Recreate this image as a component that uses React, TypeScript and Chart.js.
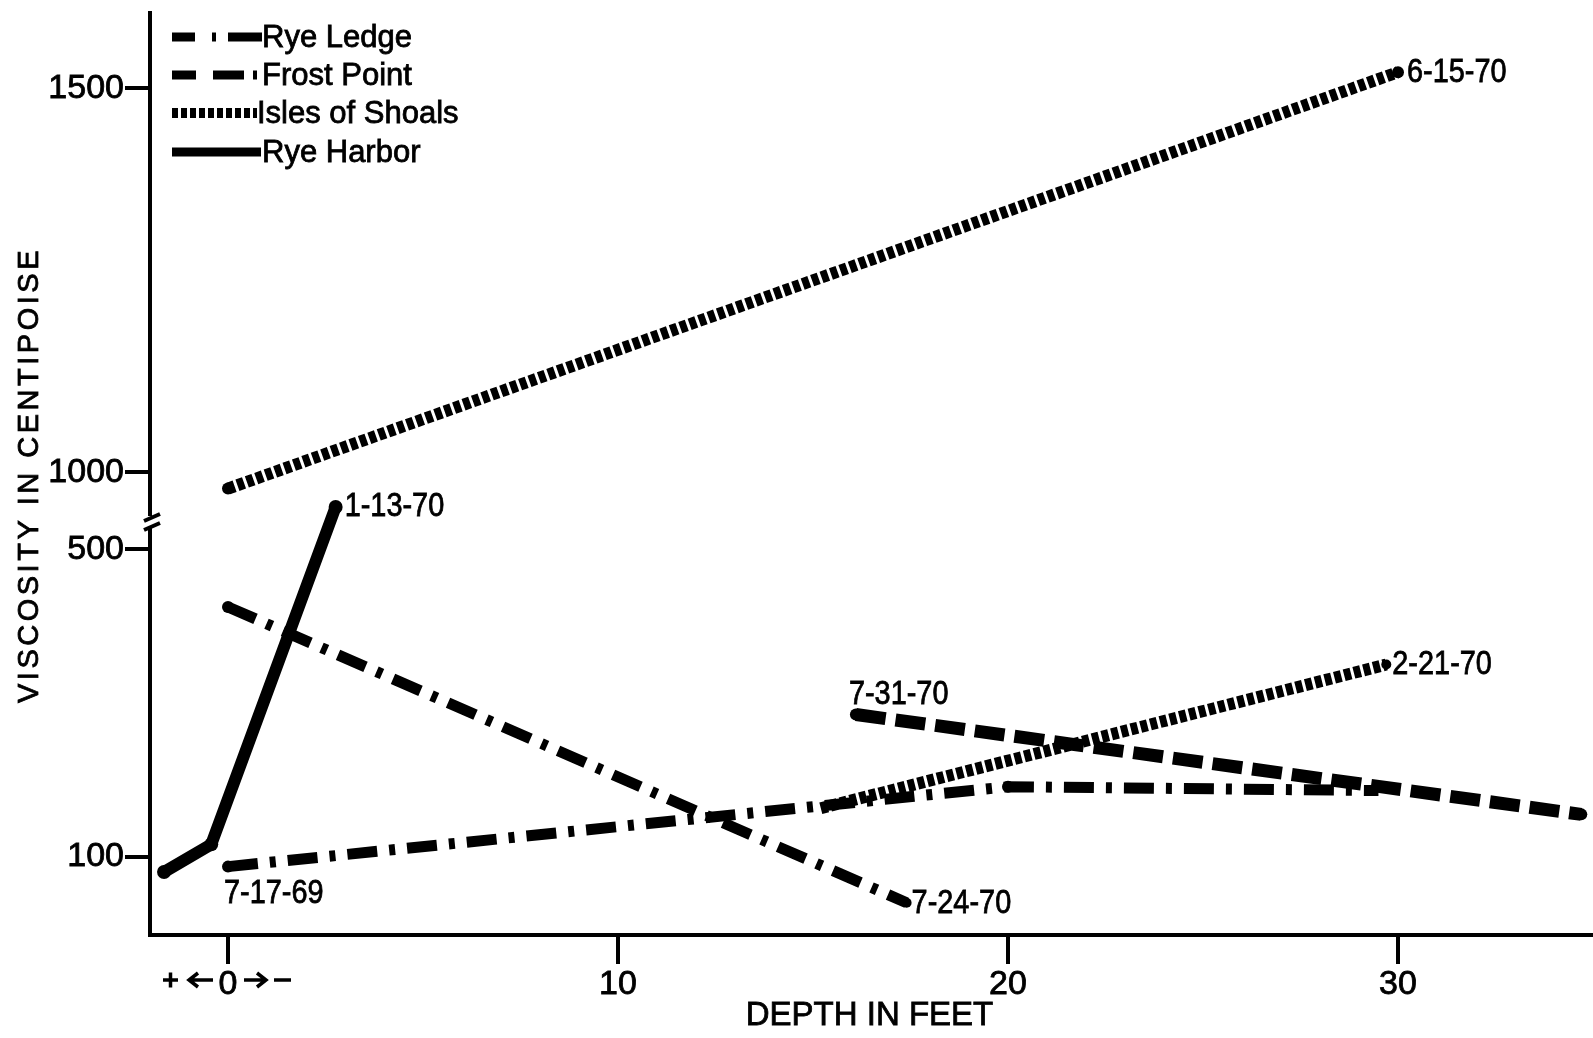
import { useEffect, useRef } from "react";
import { Chart, registerables } from "chart.js";
Chart.register(...registerables);

// Axis break: the upper segment (1000 and above) is drawn BREAK_OFFSET units lower
const BREAK_OFFSET = 400;
const plotY = (v: number) => (v >= 800 ? v - BREAK_OFFSET : v);
const realY = (v: number) => (v >= 600 ? v + BREAK_OFFSET : v);

// Rye Ledge (dash-dot)
const ryeLedge1Depth = [0, 17.4];
const ryeLedge1Visc = [425, 40];
const ryeLedge2Depth = [0, 20, 29.5];
const ryeLedge2Visc = [87, 191, 186];
// Frost Point (dashed)
const frostDepth = [16.1, 34.7];
const frostVisc = [285, 155];
// Isles of Shoals (dotted)
const isles1Depth = [0, 30];
const isles1Visc = [979, 1521];
const isles2Depth = [15.2, 29.7];
const isles2Visc = [163, 350];
// Rye Harbor (solid)
const harborDepth = [-1.64, -0.43, 2.76];
const harborVisc = [80, 116, 555];

const xTickValues = [0, 10, 20, 30];
const yTickValues = [100, 500, 1000, 1500];
const legendLabels = ["Rye Ledge", "Frost Point", "Isles of Shoals", "Rye Harbor"];
const dateLabels = ["7-24-70", "7-17-69", "7-31-70", "6-15-70", "2-21-70", "1-13-70"];
const xTitle = "DEPTH IN FEET";
const yTitle = "VISCOSITY IN CENTIPOISE";

const FONT = "'Liberation Sans', Arial, sans-serif";

const pts = (xs: number[], ys: number[]) => xs.map((x, i) => ({ x, y: plotY(ys[i]) }));

// label anchors: dataset index, point index, pixel offset
const dateAnchors = [
  { ds: 0, pt: 1, dx: 5, dy: 1 },
  { ds: 1, pt: 0, dx: -4, dy: 27 },
  { ds: 2, pt: 0, dx: -7, dy: -20 },
  { ds: 3, pt: 1, dx: 9, dy: 0 },
  { ds: 4, pt: 1, dx: 6, dy: 0 },
  { ds: 5, pt: 2, dx: 9, dy: 0 },
];

const text = (ctx: CanvasRenderingContext2D, s: string, x: number, y: number, sw = 0.8) => {
  ctx.fillText(s, x, y);
  ctx.lineWidth = sw;
  ctx.strokeText(s, x, y);
};

const decorPlugin = {
  id: "decor",
  afterDraw(chart: any) {
    const ctx = chart.ctx as CanvasRenderingContext2D;
    const xs = chart.scales.x;
    const ys = chart.scales.y;
    ctx.save();
    ctx.fillStyle = "#000";
    ctx.strokeStyle = "#000";

    // axis break marks
    const bx = ys.right;
    ctx.fillStyle = "#fff";
    ctx.fillRect(bx - 4, 516, 8, 11);
    ctx.fillStyle = "#000";
    ctx.lineWidth = 4;
    ctx.lineCap = "butt";
    ctx.beginPath();
    ctx.moveTo(bx - 6, 521);
    ctx.lineTo(bx + 10, 514);
    ctx.moveTo(bx - 6, 530);
    ctx.lineTo(bx + 10, 523);
    ctx.stroke();

    // legend
    const seg = (a: number, b: number, y: number) => {
      ctx.beginPath();
      ctx.moveTo(a, y);
      ctx.lineTo(b, y);
      ctx.stroke();
    };
    ctx.lineWidth = 9;
    const ly = [37, 75, 113, 152];
    seg(172, 195, ly[0]); seg(212, 216, ly[0]); seg(228, 262, ly[0]);
    seg(172, 196, ly[1]); seg(213, 244, ly[1]); seg(253, 257, ly[1]);
    ctx.setLineDash([6, 3]);
    ctx.lineWidth = 10;
    seg(172, 257, ly[2]);
    ctx.setLineDash([]);
    ctx.lineWidth = 9;
    seg(172, 261, ly[3]);
    ctx.font = `31px ${FONT}`;
    ctx.textAlign = "left";
    ctx.textBaseline = "middle";
    legendLabels.forEach((t, i) => text(ctx, t, i === 2 ? 257 : 262, ly[i] + 1));

    // date labels
    ctx.font = `34px ${FONT}`;
    dateAnchors.forEach((a, i) => {
      const el = chart.getDatasetMeta(a.ds).data[a.pt];
      ctx.save();
      ctx.translate(el.x + a.dx, el.y + a.dy);
      ctx.scale(0.85, 1);
      text(ctx, dateLabels[i], 0, 0);
      ctx.restore();
    });

    // "+ <- 0 -> -" marks around the zero tick
    const x0 = xs.getPixelForValue(0);
    const gy = 980;
    ctx.lineWidth = 3.5;
    ctx.beginPath();
    ctx.moveTo(x0 - 65, gy); ctx.lineTo(x0 - 50, gy);
    ctx.moveTo(x0 - 57.5, gy - 7.5); ctx.lineTo(x0 - 57.5, gy + 7.5);
    ctx.moveTo(x0 - 39, gy); ctx.lineTo(x0 - 15, gy);
    ctx.moveTo(x0 - 30, gy - 7); ctx.lineTo(x0 - 39, gy); ctx.lineTo(x0 - 30, gy + 7);
    ctx.moveTo(x0 + 16, gy); ctx.lineTo(x0 + 38, gy);
    ctx.moveTo(x0 + 29, gy - 7); ctx.lineTo(x0 + 38, gy); ctx.lineTo(x0 + 29, gy + 7);
    ctx.moveTo(x0 + 46, gy); ctx.lineTo(x0 + 63, gy);
    ctx.stroke();

    // axis titles
    ctx.font = `33px ${FONT}`;
    ctx.textAlign = "center";
    text(ctx, xTitle, (xs.left + xs.right) / 2 - 2, 1016);
    ctx.save();
    ctx.translate(30, 475);
    ctx.rotate(-Math.PI / 2);
    ctx.font = `29px ${FONT}`;
    (ctx as any).letterSpacing = "3.5px";
    text(ctx, yTitle, 0, 0);
    ctx.restore();

    ctx.restore();
  },
};

export default function App() {
  const ref = useRef<HTMLCanvasElement>(null);
  useEffect(() => {
    if (!ref.current) return;
    const base = {
      borderColor: "#000",
      backgroundColor: "#000",
      pointBackgroundColor: "#000",
      pointBorderWidth: 0,
      borderCapStyle: "butt" as const,
      fill: false,
      tension: 0,
    };
    const tickFont = { family: FONT, size: 34 };
    const chart = new Chart(ref.current, {
      type: "line",
      data: {
        datasets: [
          { ...base, label: legendLabels[0], data: pts(ryeLedge1Depth, ryeLedge1Visc), borderWidth: 11, borderDash: [30, 12, 6, 12], pointRadius: [6, 5] },
          { ...base, label: legendLabels[0], data: pts(ryeLedge2Depth, ryeLedge2Visc), borderWidth: 11, borderDash: [30, 12, 6, 12], pointRadius: [6, 6, 0] },
          { ...base, label: legendLabels[1], data: pts(frostDepth, frostVisc), borderWidth: 13, borderDash: [30, 10], pointRadius: [6, 6] },
          { ...base, label: legendLabels[2], data: pts(isles1Depth, isles1Visc), borderWidth: 12, borderDash: [7, 3], pointRadius: [6, 6] },
          { ...base, label: legendLabels[2], data: pts(isles2Depth, isles2Visc), borderWidth: 12, borderDash: [7, 3], pointRadius: [0, 5] },
          { ...base, label: legendLabels[3], data: pts(harborDepth, harborVisc), borderWidth: 12, pointRadius: [7, 7, 7] },
        ],
      },
      options: {
        animation: false,
        responsive: false,
        layout: { autoPadding: false, padding: { top: 13, right: 0, left: 0, bottom: 0 } },
        plugins: { legend: { display: false }, tooltip: { enabled: false } },
        scales: {
          x: {
            type: "linear",
            min: -2,
            max: 35,
            afterBuildTicks: (s: any) => { s.ticks = xTickValues.map((v) => ({ value: v })); },
            afterFit: (s: any) => { s.height = 103; s.paddingLeft = 0; s.paddingRight = 0; },
            grid: { display: true, drawOnChartArea: false, drawTicks: true, tickLength: 29, lineWidth: 4, color: "#000" },
            border: { display: true, width: 4, color: "#000" },
            ticks: { color: "#000", font: tickFont, padding: 0, maxRotation: 0, autoSkip: false, textStrokeColor: "#000", textStrokeWidth: 0.8, callback: (v: any) => String(v) },
          },
          y: {
            type: "linear",
            min: -2,
            max: 1198,
            afterBuildTicks: (s: any) => { s.ticks = yTickValues.map((v) => ({ value: plotY(v) })); },
            afterFit: (s: any) => { s.width = 150; s.paddingTop = 0; s.paddingBottom = 0; },
            grid: { display: true, drawOnChartArea: false, drawTicks: true, tickLength: 25, lineWidth: 4, color: "#000" },
            border: { display: true, width: 4, color: "#000" },
            ticks: { color: "#000", font: tickFont, padding: 1, autoSkip: false, textStrokeColor: "#000", textStrokeWidth: 0.8, callback: (v: any) => String(realY(Number(v))) },
          },
        },
      },
      plugins: [decorPlugin],
    });
    return () => chart.destroy();
  }, []);
  return (
    <div style={{ position: "absolute", left: 0, top: 0, width: 1593, height: 1038, background: "#fff" }}>
      <canvas ref={ref} width={1593} height={1038} style={{ display: "block" }} />
    </div>
  );
}
